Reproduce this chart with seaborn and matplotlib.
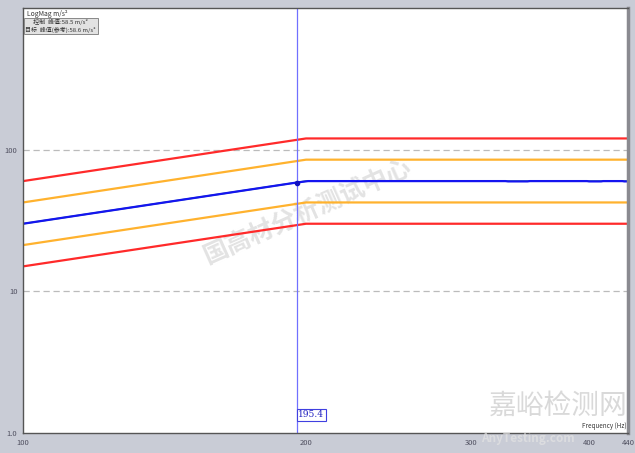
import pandas as pd
import matplotlib
matplotlib.use("Agg")
import matplotlib.pyplot as plt
import seaborn as sns

# profile breakpoints (Hz) and levels (m/s^2)
freq = [100, 200, 440]
target = [30, 60, 60]
alarm_hi = [42.4, 85, 85]
alarm_lo = [21.2, 42.4, 42.4]
abort_hi = [60, 120, 120]
abort_lo = [15, 30, 30]

ctrl_freq = [100, 195.4, 201, 326, 328, 344, 346, 398, 400, 412, 414, 434, 436, 440]
ctrl_val = [30, 58.6, 60, 60, 59.7, 59.7, 60, 60, 59.7, 59.7, 60, 60, 59.7, 59.7]

cursor_f = 195.4
cursor_v = 58.6

xticks = [100, 200, 300, 400, 440]
xlabels = ["100", "200", "300", "400", "440"]
yticks = [1, 10, 100]
ylabels = ["1.0", "10", "100"]

sns.set_style("white")
plt.rcParams['font.family'] = ['Noto Sans CJK SC', 'DejaVu Sans']

bg = "#c9ccd6"
fig = plt.figure(figsize=(6.35, 4.53), dpi=100, facecolor=bg)
ax = fig.add_axes([23/635, 20/453, 605/635, 425/453])
ax.set_facecolor("white")

limits = pd.DataFrame({"f": freq, "target": target, "alarm_hi": alarm_hi,
                       "alarm_lo": alarm_lo, "abort_hi": abort_hi, "abort_lo": abort_lo})
ctrl = pd.DataFrame({"f": ctrl_freq, "v": ctrl_val})

for col, c in [("abort_hi", "#ff2a2a"), ("abort_lo", "#ff2a2a"),
               ("alarm_hi", "#ffb22e"), ("alarm_lo", "#ffb22e")]:
    sns.lineplot(data=limits, x="f", y=col, color=c, lw=1.6, ax=ax)
sns.lineplot(data=limits, x="f", y="target", color="#3c9a70", lw=1.2, ax=ax)
sns.lineplot(data=ctrl, x="f", y="v", color="#1414f0", lw=1.6, ax=ax)

ax.set_xscale("log")
ax.set_yscale("log")
ax.set_xlim(100, 440)
ax.set_ylim(1, 1000)
ax.minorticks_off()
ax.set_xticks(xticks)
ax.set_xticklabels(xlabels)
ax.set_yticks(yticks)
ax.set_yticklabels(ylabels)
ax.tick_params(length=0, labelsize=5.5, labelcolor="#505060", pad=4)
ax.set_xlabel("")
ax.set_ylabel("")

for v in [10, 100]:
    ax.axhline(v, color="#bbbbbb", ls=(0, (5, 3)), lw=0.9, zorder=0)

for s in ax.spines.values():
    s.set_color("#555555")
    s.set_linewidth(1.0)
ax.spines["right"].set_color("#8a8a90")
ax.spines["right"].set_linewidth(2.5)

# cursor
ax.axvline(cursor_f, color="#7070ff", lw=0.9)
ax.plot([cursor_f], [cursor_v], "o", color="#1010c0", ms=3)
ax.text(cursor_f * 1.004, 1.25, "195.4", color="#2020c0", fontsize=6.5, family="DejaVu Serif",
        ha="left", va="bottom",
        bbox=dict(boxstyle="square,pad=0.15", fc="white", ec="#4040e0", lw=0.8))

ax.text(0.006, 0.996, "LogMag m/s²", transform=ax.transAxes, fontsize=4.8,
        color="#333333", ha="left", va="top")
ax.text(0.004, 0.974, "      控制  峰值:58.5 m/s²\n目标  峰值(参考):58.6 m/s²",
        transform=ax.transAxes, fontsize=4.3, color="#333333", ha="left", va="top",
        linespacing=1.3,
        bbox=dict(boxstyle="square,pad=0.25", fc="#e2e2e2", ec="#888888", lw=0.7))
ax.text(0.998, 0.006, "Frequency (Hz)", transform=ax.transAxes, fontsize=4.5,
        color="#333333", ha="right", va="bottom")

# watermarks
ax.text(0.47, 0.52, "国高材分析测试中心", transform=ax.transAxes, fontsize=18,
        fontweight="bold", color="#dadada", alpha=0.75, rotation=24,
        ha="center", va="center", zorder=1)
ax.text(0.885, 0.028, "嘉峪检测网", transform=ax.transAxes, fontsize=20,
        color="#d0d0d0", alpha=0.8, ha="center", va="bottom", zorder=1)
fig.text(528/635, 0.018, "AnyTesting.com", fontsize=8.5, style="italic",
         fontweight="bold", color="#e4e4e4", alpha=0.7, ha="center", va="bottom")

fig.savefig("out.png", dpi=100, facecolor=bg)
